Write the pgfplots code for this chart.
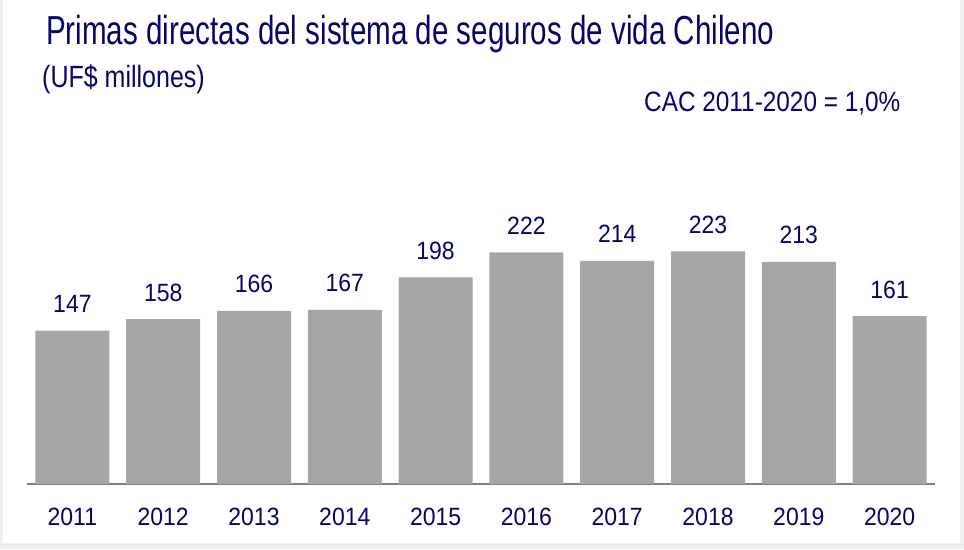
\documentclass[border=0pt]{standalone}
\usepackage{fontspec}
\usepackage{pgfplots}
\pgfplotsset{compat=1.18}
\setmainfont{Liberation Sans}
\newfontfamily\titlefont[FakeStretch=0.73]{Liberation Sans}
\newfontfamily\subfont[FakeStretch=0.815]{Liberation Sans}
\newfontfamily\cacfont[FakeStretch=0.87]{Liberation Sans}
\newfontfamily\labfont[FakeStretch=0.92]{Liberation Sans}
\definecolor{navy}{RGB}{5,5,110}
\definecolor{barg}{RGB}{166,166,166}
\definecolor{baseg}{RGB}{128,128,128}
\definecolor{frameg}{RGB}{240,240,240}
\begin{document}
\begin{tikzpicture}[x=1pt,y=1pt]
\fill[frameg] (0,0) rectangle (964,549);
\fill[white] (3,6) rectangle (960,549);
\node[anchor=base west, inner sep=0pt, text=navy] at (46,504) {\titlefont\fontsize{40.5}{48}\selectfont Primas directas del sistema de seguros de vida Chileno};
\node[anchor=base west, inner sep=0pt, text=navy] at (42,461) {\subfont\fontsize{30.7}{36}\selectfont (UF\$ millones)};
\node[anchor=base west, inner sep=0pt, text=navy] at (644,437) {\cacfont\fontsize{28}{34}\selectfont CAC 2011-2020 = 1,0\%};
\begin{axis}[
  at={(27pt,65pt)}, anchor=south west,
  scale only axis, width=908pt, height=312.9pt,
  xmin=-0.5, xmax=9.5, ymin=0, ymax=300,
  axis x line*=bottom, axis y line=none,
  x axis line style={draw=baseg, line width=1.5pt, -},
  major tick length=0pt,
  xtick={0,...,9},
  xticklabels={2011,2012,2013,2014,2015,2016,2017,2018,2019,2020},
  xticklabel style={font=\labfont\fontsize{25}{30}\selectfont, text=navy, anchor=base, inner sep=0pt, yshift=-41pt},
  ytick=\empty,
  clip=false,
  /pgf/number format/assume math mode=true,
  nodes near coords,
  point meta=y,
  every node near coord/.append style={font=\labfont\fontsize{25}{30}\selectfont, text=navy, anchor=base, inner sep=0pt, yshift=18pt},
]
\addplot[ybar, bar width=74pt, fill=barg, draw=none] coordinates {
(0,147) (1,158) (2,166) (3,167) (4,198) (5,222) (6,214) (7,223) (8,213) (9,161)
};
\end{axis}
\end{tikzpicture}
\end{document}
